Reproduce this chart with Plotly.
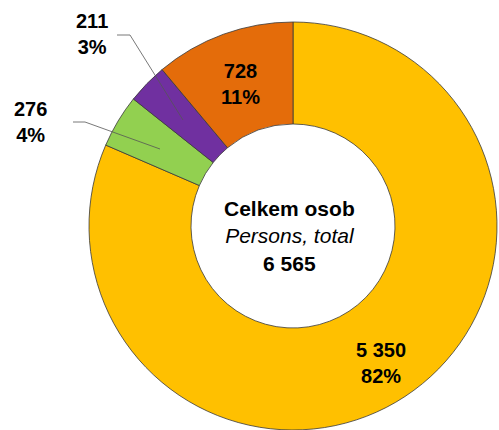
import plotly.graph_objects as go

categories = ["A", "B", "C", "D"]
values = [5350, 276, 211, 728]
percents = [82, 4, 3, 11]
colors = ["#FFC000", "#92D050", "#7030A0", "#E46C0A"]
center_title = "Celkem osob"
center_sub = "Persons, total"

W, H = 499, 430
total = sum(values)

def fmt(n):
    return f"{n:,}".replace(",", " ")

# label positions (pixels from top-left) per slice
label_pos = [(381, 363), (30, 122), (92, 34), (240, 84)]

cx, cy, r = 293, 226, 204
fig = go.Figure(go.Pie(
    labels=categories, values=values, sort=False, direction="clockwise",
    rotation=0, hole=0.5, textinfo="none", hoverinfo="skip",
    marker=dict(colors=colors, line=dict(color="#3a3a3a", width=0.8)),
    domain=dict(x=[(cx - r) / W, (cx + r) / W], y=[(H - cy - r) / H, (H - cy + r) / H]),
    showlegend=False,
))

fam = "Liberation Sans, Arial, sans-serif"
font = dict(family=fam, size=20, color="#000000")
anns = []
for v, p, (px, py) in zip(values, percents, label_pos):
    anns.append(dict(x=px / W, y=1 - py / H, xref="paper", yref="paper",
                     text=f"<b>{fmt(v)}<br>{p}%</b>", showarrow=False,
                     font=font, xanchor="center", yanchor="middle"))
anns.append(dict(x=289 / W, y=1 - 236 / H, xref="paper", yref="paper",
                 text=f"<b>{center_title}</b><br><i>{center_sub}</i><br><b>{fmt(total)}</b>",
                 showarrow=False, font=dict(family=fam, size=21, color="#000"),
                 xanchor="center", yanchor="middle"))

def seg(x0, y0, x1, y1):
    return dict(type="line", xref="paper", yref="paper",
                x0=x0 / W, y0=1 - y0 / H, x1=x1 / W, y1=1 - y1 / H,
                line=dict(color="#555555", width=0.8))

shapes = [
    seg(117, 35, 130, 35), seg(130, 35, 183, 120),
    seg(73, 122, 85, 122), seg(85, 122, 160, 149),
]

fig.update_layout(width=W, height=H, margin=dict(l=0, r=0, t=0, b=0),
                  paper_bgcolor="white", plot_bgcolor="white",
                  annotations=anns, shapes=shapes)
fig.write_html("out.html", config={"displayModeBar": False},
               post_script="document.body.style.margin='0';document.body.style.overflow='hidden';")
